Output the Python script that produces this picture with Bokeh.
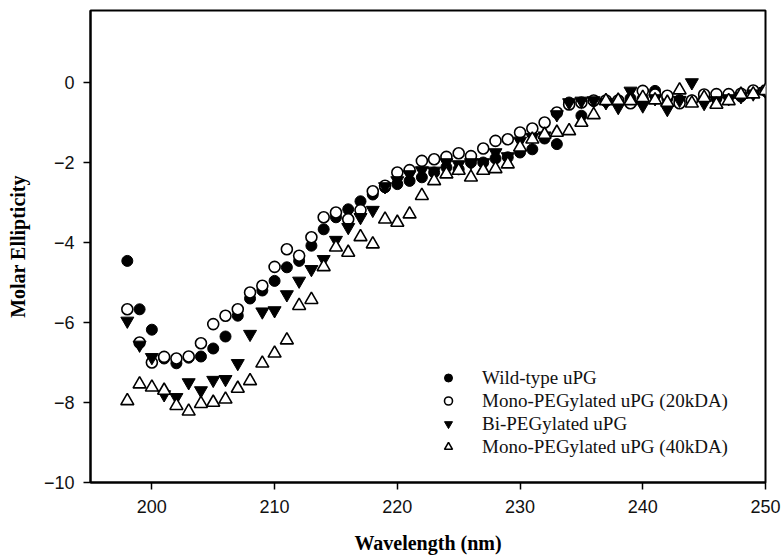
from bokeh.plotting import figure
from bokeh.models import Range1d, FixedTicker, Legend, LegendItem
from bokeh.embed import file_html
from bokeh.resources import INLINE

wavelength = list(range(198, 251))

wild_type = [-4.46, -5.67, -6.18, -6.90, -7.02, -6.88, -6.85, -6.65, -6.35, -5.83,
             -5.40, -5.20, -4.96, -4.62, -4.46, -4.08, -3.67, -3.37, -3.17, -2.97,
             -2.80, -2.62, -2.54, -2.46, -2.37, -2.25, -2.12, -2.17, -2.00, -2.00,
             -1.90, -1.87, -1.75, -1.67, -1.40, -1.54, -0.50, -0.83, -0.46, -0.46,
             -0.45, -0.40, -0.40, -0.21, -0.40, -0.44, -0.45, -0.40, -0.40, -0.35,
             -0.35, -0.25, -0.21]

mono_20 = [-5.67, -6.50, -7.00, -6.86, -6.90, -6.85, -6.52, -6.04, -5.83, -5.67,
           -5.25, -5.08, -4.61, -4.17, -4.33, -3.87, -3.37, -3.25, -3.42, -3.19,
           -2.72, -2.58, -2.25, -2.19, -1.96, -1.92, -1.86, -1.77, -1.84, -1.65,
           -1.46, -1.42, -1.25, -1.15, -1.00, -0.75, -0.55, -0.50, -0.45, -0.45,
           -0.45, -0.52, -0.21, -0.30, -0.33, -0.52, -0.45, -0.30, -0.29, -0.29,
           -0.28, -0.20, -0.20]

bi_peg = [-5.96, -6.56, -6.87, -7.80, -7.87, -7.50, -7.70, -7.44, -7.42, -7.02,
          -6.29, -5.73, -5.70, -5.30, -4.96, -4.67, -4.42, -3.94, -3.62, -3.37,
          -3.19, -2.60, -2.45, -2.30, -2.20, -2.21, -2.00, -2.05, -2.00, -2.00,
          -1.75, -1.85, -1.46, -1.37, -1.33, -0.80, -0.50, -0.46, -0.45, -0.50,
          -0.62, -0.21, -0.58, -0.40, -0.67, -0.44, 0.00, -0.52, -0.45, -0.40,
          -0.35, -0.28, -0.22]

mono_40 = [-7.96, -7.54, -7.62, -7.70, -8.08, -8.22, -8.03, -8.00, -7.92, -7.65,
           -7.46, -7.02, -6.77, -6.44, -5.58, -5.43, -4.61, -4.12, -4.25, -3.86,
           -4.04, -3.42, -3.50, -3.29, -2.83, -2.46, -2.29, -2.20, -2.37, -2.20,
           -2.16, -2.04, -1.62, -1.42, -1.30, -1.25, -1.21, -1.00, -0.81, -0.46,
           -0.45, -0.46, -0.38, -0.44, -0.50, -0.19, -0.52, -0.38, -0.55, -0.46,
           -0.30, -0.29, -0.21]

x_ticks = [200, 210, 220, 230, 240, 250]
y_ticks = [-10, -8, -6, -4, -2, 0]

labels = ["Wild-type uPG", "Mono-PEGylated uPG (20kDA)",
          "Bi-PEGylated uPG", "Mono-PEGylated uPG (40kDA)"]

p = figure(width=783, height=558, output_backend="svg", toolbar_location=None,
           x_range=Range1d(195, 250), y_range=Range1d(-10, 1.8),
           min_border_left=90, min_border_right=18, min_border_top=10,
           min_border_bottom=76)
p.background_fill_color = "white"
p.border_fill_color = "white"
p.outline_line_color = "black"
p.outline_line_width = 2
p.xgrid.visible = False
p.ygrid.visible = False

r1 = p.scatter(wavelength, wild_type, marker="circle", size=11,
               fill_color="black", line_color="black", line_width=1)
r2 = p.scatter(wavelength, mono_20, marker="circle", size=11,
               fill_color="white", line_color="black", line_width=1.6)
r3 = p.scatter(wavelength, bi_peg, marker="inverted_triangle", size=13,
               fill_color="black", line_color="black", line_width=1)
r4 = p.scatter(wavelength, mono_40, marker="triangle", size=13,
               fill_color="white", line_color="black", line_width=1.6)

for ax in (p.xaxis, p.yaxis):
    ax.axis_line_width = 2
    ax.axis_line_color = "black"
    ax.major_tick_line_width = 1.5
    ax.major_tick_line_color = "black"
    ax.major_tick_in = 0
    ax.major_tick_out = 7
    ax.minor_tick_line_color = None
    ax.major_label_text_font = "Liberation Sans"
    ax.major_label_text_font_size = "18px"
    ax.major_label_text_color = "#111111"
    ax.axis_label_text_font = "Liberation Serif"
    ax.axis_label_text_font_style = "bold"
    ax.axis_label_text_font_size = "20px"
    ax.axis_label_text_color = "black"

p.xaxis.ticker = FixedTicker(ticks=x_ticks)
p.yaxis.ticker = FixedTicker(ticks=y_ticks)
p.xaxis.axis_label = "Wavelength (nm)"
p.yaxis.axis_label = "Molar Ellipticity"
p.xaxis.major_label_standoff = 10
p.yaxis.major_label_standoff = 9
p.xaxis.axis_label_standoff = 16
p.yaxis.axis_label_standoff = 12

legend = Legend(items=[LegendItem(label=labels[0], renderers=[r1]),
                       LegendItem(label=labels[1], renderers=[r2]),
                       LegendItem(label=labels[2], renderers=[r3]),
                       LegendItem(label=labels[3], renderers=[r4])],
                location=(348, 24))
legend.border_line_color = None
legend.background_fill_alpha = 0
legend.label_text_font = "Liberation Serif"
legend.label_text_font_size = "19px"
legend.label_text_color = "#111111"
legend.glyph_width = 20
legend.glyph_height = 23
legend.label_height = 23
legend.label_standoff = 24
legend.spacing = 0
legend.padding = 0
legend.margin = 0
p.add_layout(legend, "center")

open("out.html", "w").write(file_html(p, INLINE))
